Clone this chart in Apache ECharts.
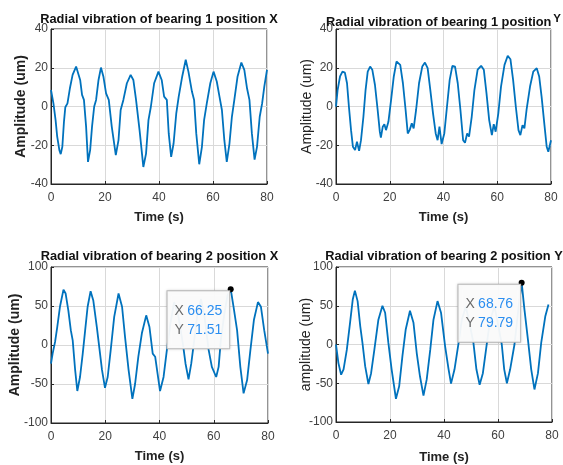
<!DOCTYPE html>
<html>
<head>
<meta charset="utf-8">
<script src="https://cdn.jsdelivr.net/npm/echarts@6/dist/echarts.min.js"></script>
<style>html,body{margin:0;padding:0;background:#fff}#c{width:563px;height:465px}</style>
</head>
<body>
<div id="c"></div>
<script>
// ---- Data ----
const titles = [
  'Radial vibration of bearing 1 position X',
  'Radial vibration of bearing 1 position Y',
  'Radial vibration of bearing 2 position X',
  'Radial vibration of bearing 2 position Y'
];
const yNames = ['Amplitude (um)', 'Amplitude (um)', 'Amplitude (um)', 'amplitude (um)'];
const xName = 'Time (s)';
const xTicks = [0, 20, 40, 60, 80];
const yTicksTop = [-40, -20, 0, 20, 40];
const yTicksBottom = [-100, -50, 0, 50, 100];

const timeB1X = [0,0.9,1.7,2.3,3.1,3.6,4.2,4.8,5.3,6.1,7.0,8.0,9.3,9.9,10.8,11.5,12.2,13.0,13.7,14.5,15.2,16.0,16.7,17.6,18.5,19.4,20.4,21.4,22.5,24.0,25.0,25.8,26.8,28.1,29.5,30.5,31.5,32.8,34.2,35.2,36.1,37.0,38.2,39.8,41.0,41.9,42.9,43.6,44.5,45.4,46.4,47.3,48.6,49.9,50.9,52.2,53.0,53.8,54.9,55.9,56.7,57.7,59.0,60.2,61.4,62.4,63.3,64.2,65.1,66.1,67.0,67.9,69.1,70.5,71.6,72.6,73.5,74.4,75.4,76.3,77.3,78.2,79.0,80.0];
const ampB1X  = [8.5,1.6,-7,-15.6,-22.5,-24.6,-20.8,-7.9,-0.4,1.6,9.4,16.3,20.6,20.1,13.7,6,3.4,-10.4,-28.6,-22.5,-10.4,0,3.4,13.7,20.1,15.5,6.8,3.4,-10.4,-25.1,-17.4,-1.8,3.4,12,16.3,13.7,3.4,-12.2,-31.2,-24.3,-7,0,12,18,13.7,5.1,3.4,-13.9,-26,-19.1,-3.5,5.1,15.5,24.1,18,7.7,3.4,-13.9,-29.8,-20.8,-7,1.6,12,18,12.9,5.1,-1.8,-17.4,-28.6,-19.1,-5.3,3.4,15.5,22.7,18.9,9.4,3.4,-13.9,-27.4,-20.8,-5.3,1.6,10.3,18.9];

const timeB1Y = [0,0.6,1.5,2.4,3.3,4.1,4.8,5.6,6.3,7.1,7.8,8.6,9.3,10.2,11.0,11.8,12.7,13.5,14.5,15.5,16.3,16.7,17.4,18.0,18.6,19.5,20.5,21.5,22.5,23.2,23.9,24.9,25.9,26.7,27.4,28.2,28.9,29.8,30.9,32.1,33.1,34.1,35.1,36.1,37.1,37.8,38.5,39.3,40.3,41.3,42.3,43.3,44.3,45.3,46.3,47.3,48.0,48.8,49.5,50.5,51.5,52.7,54.0,55.0,56.0,57.0,58.0,58.7,59.4,60.4,61.4,62.7,63.9,64.9,65.9,66.9,67.9,68.6,69.4,70.1,70.9,72.2,73.4,74.7,75.6,76.5,77.5,78.4,79.0,80.0];
const ampB1Y  = [-0.1,8.5,15.5,18,17.5,12,0,-12.2,-20.8,-22.5,-18.2,-22.9,-17.4,-5.3,8.5,18,20.6,19,11.1,-1.8,-13,-16.1,-10.4,-9.1,-12.2,-7.9,3.4,15.5,23.2,23.7,21.5,12,-1.8,-13.9,-12.2,-8.7,-11.3,-1.8,12,20.6,22.7,19.8,8.5,-3.5,-13.9,-17.4,-10.4,-19.4,-13.9,0,13.7,21,20.6,12,-1.8,-17.4,-18.7,-13.9,-15.5,-5.3,8.5,19,21,19,6.8,-7,-14.8,-9.1,-13,-3.5,10.3,21.5,26.2,24.4,13.7,0,-12.2,-14.8,-9.6,-11.3,-1.8,10.3,18,19.8,15.5,5.1,-8.7,-20.8,-23.4,-17.4];

const timeB2X = [0,0.6,1.5,2.3,3.3,4.6,5.4,6.4,7.3,8.0,8.9,9.7,10.7,11.7,12.6,13.5,14.6,15.6,16.9,17.8,18.8,19.9,20.9,22.0,23.3,24.9,26.2,27.3,28.6,30.0,31.0,32.2,33.5,35.1,36.3,37.5,38.4,39.3,40.2,41.5,42.7,44.0,45.4,47.0,48.6,49.6,50.7,51.7,52.8,54.0,55.3,56.6,58.1,59.3,60.9,61.8,62.6,63.9,65.1,66.25,67.3,68.6,69.8,71.0,72.3,73.5,74.8,76.3,77.4,78.6,80.0];
const ampB2X  = [-24,-11,4,23,49,71,66,44,19,6,-32,-59,-41,-11,19,49,69,57,23,-3,-32,-55,-41,-7,36,66,49,10,-32,-69,-50,-15,15,38,23,-11,-15,-37,-59,-41,-7,27,55,36,2,-24,-44,-24,6,40,59,36,-6,-28,-41,-28,6,40,64,71.51,49,19,-28,-62,-45,-7,32,55,49,19,-11];

const timeB2Y = [0,0.9,1.9,2.8,4.0,5.2,6.2,7.0,8.0,9.0,9.8,10.8,12.0,13.0,14.2,15.7,17.2,18.2,19.4,20.6,22.2,23.4,24.6,25.8,27.4,28.7,29.9,31.1,32.4,33.6,34.9,36.1,37.6,38.9,40.4,41.7,42.6,43.9,45.4,46.6,48.1,49.7,50.9,52.0,53.2,54.4,55.9,57.1,58.7,60.2,61.4,62.3,63.3,64.5,66.1,67.4,68.76,69.8,71.1,72.3,73.5,74.8,76.0,77.5,78.7,80.0];
const ampB2Y  = [0,-24,-39,-32,-7,28,58,69.5,56,23,2,-28,-51,-37,-7,32,50,41,2,-32,-70,-54,-15,19,43.5,28,-11,-41,-66,-45,-7,32,56,41,-2,-32,-50.5,-32,2,32,49,23,2,-32,-52,-37,2,32,49,23,0,-32,-50,-32,0,41,79.79,45,6,-32,-58,-37,2,36,51.5];

// data tips (x, y) shown on the bottom panels
const tipB2X = [66.25, 71.51];
const tipB2Y = [68.76, 79.79];

// ---- Chart ----
const zip = (a, b) => a.map((v, i) => [v, b[i]]);
const lineColor = '#0072BD';
const axisColor = '#262626';
const tickColor = '#404040';

const grids = [
  {left: 51, top: 29, width: 216, height: 155},
  {left: 336, top: 29, width: 215, height: 155},
  {left: 51, top: 267, width: 217, height: 156},
  {left: 336, top: 267, width: 216, height: 155}
];
const yGap = [23, 22, 29, 23];
const yBold = ['bold', 'normal', 'bold', 'normal'];
const xGap = [27, 27, 27, 29];
const titleTop = [13, 13, 250, 250];

const chart = echarts.init(document.getElementById('c'), null, {renderer: 'canvas'});

const titleFont = "Arial, 'Liberation Sans', sans-serif";
const titleSize = 12.8;

const option = {
  animation: false,
  title: titles.map((t, i) => {
    const g = grids[i];
    const base = {
      left: g.left + g.width / 2,
      top: titleTop[i],
      padding: 0,
      textAlign: 'center',
      textStyle: {fontFamily: titleFont, fontSize: titleSize, fontWeight: 'bold', color: '#111'}
    };
    if (i === 1) {
      const parts = t.split(' ');
      const last = parts.pop();
      base.text = '{a|' + parts.join(' ') + '}{b|' + last + '}';
      base.textStyle.rich = {
        a: {fontFamily: titleFont, fontSize: titleSize, fontWeight: 'bold', color: '#111'},
        b: {fontFamily: titleFont, fontSize: 11.5, fontWeight: 'bold', color: '#111', padding: [0, 0, 6, 2]}
      };
    } else {
      base.text = t;
    }
    return base;
  }),
  grid: grids.map(g => Object.assign({show: true, borderColor: axisColor, borderWidth: 1, backgroundColor: '#fff'}, g)),
  xAxis: grids.map((g, i) => ({
    gridIndex: i, type: 'value', min: xTicks[0], max: xTicks[xTicks.length - 1], interval: xTicks[1] - xTicks[0],
    name: xName, nameLocation: 'middle', nameGap: xGap[i], nameMoveOverlap: false,
    nameTextStyle: {fontFamily: 'Arial', fontSize: 13, fontWeight: 'bold', color: '#222'},
    axisLine: {show: true, onZero: false, lineStyle: {color: axisColor}},
    axisTick: {show: true, inside: true, length: 3, lineStyle: {color: axisColor}},
    axisLabel: {fontFamily: 'Arial', fontSize: 12, color: tickColor, margin: 8},
    splitLine: {show: true, lineStyle: {color: '#d9d9d9', width: 1}}
  })),
  yAxis: grids.map((g, i) => {
    const ticks = i < 2 ? yTicksTop : yTicksBottom;
    return {
      gridIndex: i, type: 'value', min: ticks[0], max: ticks[ticks.length - 1], interval: ticks[1] - ticks[0],
      name: yNames[i], nameLocation: 'middle', nameGap: yGap[i], nameMoveOverlap: false,
      nameTextStyle: {fontFamily: 'Arial', fontSize: 14, fontWeight: yBold[i], color: '#222'},
      axisLine: {show: true, onZero: false, lineStyle: {color: axisColor}},
      axisTick: {show: true, inside: true, length: 3, lineStyle: {color: axisColor}},
      axisLabel: {fontFamily: 'Arial', fontSize: 12, color: tickColor, margin: 3},
      splitLine: {show: true, lineStyle: {color: '#d9d9d9', width: 1}}
    };
  }),
  series: [
    [timeB1X, ampB1X, null],
    [timeB1Y, ampB1Y, null],
    [timeB2X, ampB2X, tipB2X],
    [timeB2Y, ampB2Y, tipB2Y]
  ].map((s, i) => {
    const ser = {
      type: 'line', xAxisIndex: i, yAxisIndex: i,
      data: zip(s[0], s[1]), showSymbol: false, symbol: 'none',
      lineStyle: {color: lineColor, width: 1.8}, itemStyle: {color: lineColor}
    };
    if (s[2]) {
      const tip = s[2];
      ser.markPoint = {
        symbol: 'circle', symbolSize: 6,
        itemStyle: {color: '#000'},
        data: [{coord: tip}],
        label: {
          show: true,
          position: [1.5, 5],
          align: 'right', verticalAlign: 'top',
          formatter: '{k|X} {v|' + tip[0].toFixed(2) + '}\n{k|Y} {v|' + tip[1].toFixed(2) + '}',
          backgroundColor: 'rgba(252,252,252,0.95)',
          borderColor: '#bdbdbd', borderWidth: 1,
          shadowColor: 'rgba(0,0,0,0.15)', shadowBlur: 3,
          padding: [10, 7, 9, 7],
          lineHeight: 19,
          rich: {
            k: {fontFamily: 'Arial', fontSize: 14, color: '#6b6b6b', lineHeight: 19},
            v: {fontFamily: 'Arial', fontSize: 14, color: '#2b8ef0', lineHeight: 19}
          }
        }
      };
    }
    return ser;
  })
};
chart.setOption(option);
</script>
</body>
</html>
